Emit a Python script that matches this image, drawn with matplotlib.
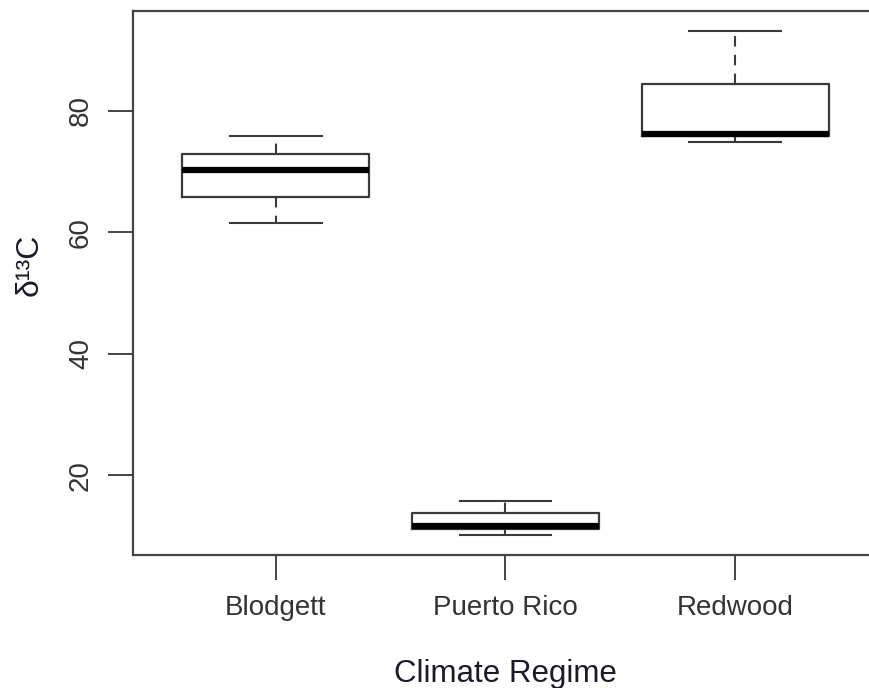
import matplotlib
matplotlib.use("Agg")
import matplotlib.pyplot as plt

categories = ["Blodgett", "Puerto Rico", "Redwood"]
whisker_low = [61.5, 10.2, 74.8]
q1 = [65.8, 11.2, 75.8]
median = [70.2, 11.7, 76.2]
q3 = [72.8, 13.8, 84.4]
whisker_high = [75.8, 15.75, 93.1]
yticks = [20, 40, 60, 80]

plt.rcParams['font.family'] = ['Liberation Sans', 'DejaVu Sans']

fig = plt.figure(figsize=(8.7, 6.88), dpi=100)
ax = fig.add_axes([133/870, 1-555/688, (878-133)/870, (555-11)/688])

stats = []
for i, c in enumerate(categories):
    stats.append(dict(label=c, whislo=whisker_low[i], q1=q1[i], med=median[i],
                      q3=q3[i], whishi=whisker_high[i], fliers=[]))

col = '#3a3a3a'
ax.bxp(stats, positions=[1, 2, 3], widths=0.81, showfliers=False,
       boxprops=dict(color=col, linewidth=1.6),
       medianprops=dict(color='black', linewidth=4.5, solid_capstyle='butt'),
       whiskerprops=dict(color=col, linewidth=1.5, linestyle=(0, (5, 4))),
       capprops=dict(color=col, linewidth=1.5),
       capwidths=0.4)

ax.set_xlim(0.38, 3.62)
ax.set_ylim(6.9, 96.4)
ax.set_yticks(yticks)
ax.set_yticklabels([str(t) for t in yticks], rotation=90, va='center')
ax.set_xticks([1, 2, 3])
ax.set_xticklabels(categories)

for s in ax.spines.values():
    s.set_color('#444444')
    s.set_linewidth(1.6)
ax.tick_params(axis='both', length=18, width=1.4, color='#444444',
               labelsize=20, labelcolor='#333333')
ax.tick_params(axis='x', pad=11)
ax.tick_params(axis='y', pad=10)

ax.set_xlabel("Climate Regime", fontsize=22.5, color='#1a1a2a', labelpad=27)
ax.set_ylabel("δ¹³C", fontsize=23, color='#1a1a2a')
ax.yaxis.set_label_coords(-0.118, 0.533)

fig.savefig("out.png", dpi=100)
